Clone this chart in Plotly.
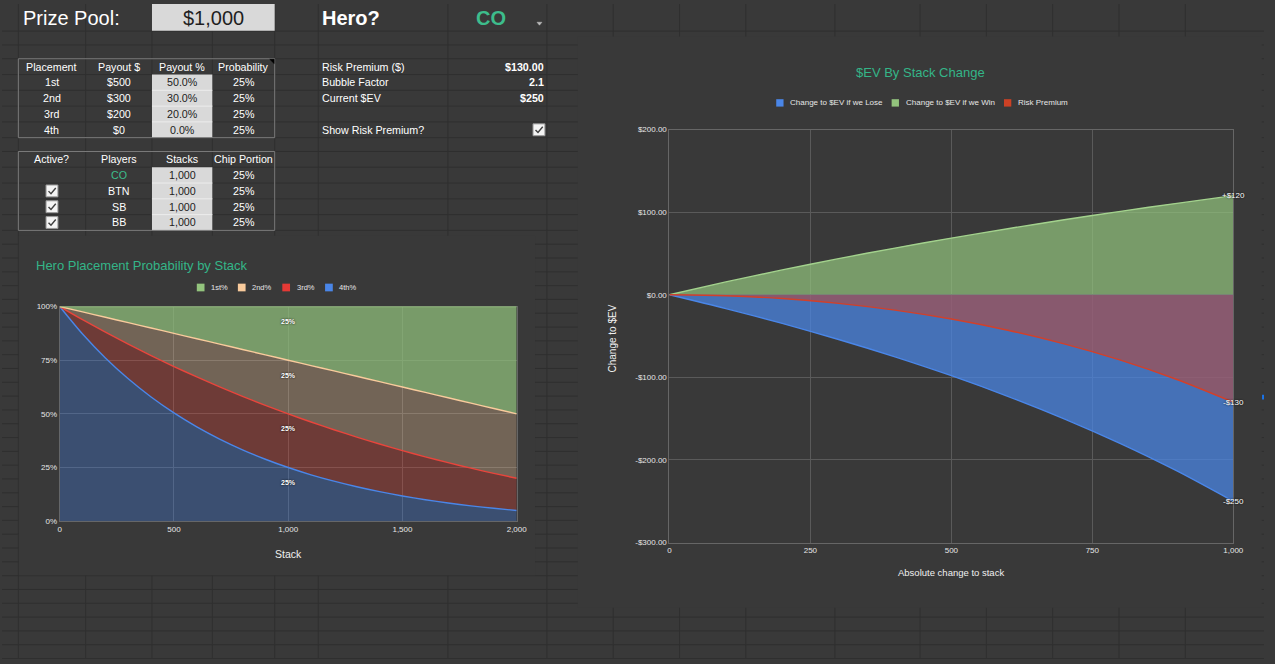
import plotly.graph_objects as go

W, H = 1275, 664
BG = "#393939"
GRID = "#2f2f2f"
TEAL = "#34b588"
FONT = "Arial, Liberation Sans, sans-serif"

# ---------------- sheet cell contents ----------------
prize_label = "Prize Pool:"
prize_pool = "$1,000"
hero_label = "Hero?"
hero = "CO"
placement_hdr = ["Placement", "Payout $", "Payout %", "Probability"]
placements = ["1st", "2nd", "3rd", "4th"]
payouts = ["$500", "$300", "$200", "$0"]
payout_pct = ["50.0%", "30.0%", "20.0%", "0.0%"]
probabilities = ["25%", "25%", "25%", "25%"]
player_hdr = ["Active?", "Players", "Stacks", "Chip Portion"]
players = ["CO", "BTN", "SB", "BB"]
player_active = [None, True, True, True]
stacks_txt = ["1,000", "1,000", "1,000", "1,000"]
chip_portion = ["25%", "25%", "25%", "25%"]
summary_labels = ["Risk Premium ($)", "Bubble Factor", "Current $EV"]
summary_values = ["$130.00", "2.1", "$250"]
show_rp_label = "Show Risk Premium?"

# ---------------- left chart data (percent) ----------------
stack = [0, 100, 200, 300, 400, 500, 600, 700, 800, 900, 1000,
         1100, 1200, 1300, 1400, 1500, 1600, 1700, 1800, 1900, 2000]
p4 = [100, 87.18, 76.04, 66.33, 57.86, 50.44, 43.94, 38.25, 33.25, 28.86, 25,
      21.61, 18.64, 16.03, 13.75, 11.75, 10, 8.48, 7.15, 6.00, 5]
p3 = [0, 6.71, 12.01, 16.14, 19.28, 21.62, 23.27, 24.34, 24.93, 25.13, 25,
      24.60, 23.97, 23.16, 22.21, 21.14, 20, 18.79, 17.54, 16.27, 15]
p2 = [0, 3.61, 6.95, 10.03, 12.86, 15.44, 17.79, 19.91, 21.82, 23.51, 25,
      26.29, 27.39, 28.31, 29.04, 29.61, 30, 30.23, 30.31, 30.23, 30]
p1 = [0, 2.5, 5, 7.5, 10, 12.5, 15, 17.5, 20, 22.5, 25,
      27.5, 30, 32.5, 35, 37.5, 40, 42.5, 45, 47.5, 50]
left_xticks = [0, 500, 1000, 1500, 2000]
left_xticktext = ["0", "500", "1,000", "1,500", "2,000"]
left_yticks = [0, 25, 50, 75, 100]
left_yticktext = ["0%", "25%", "50%", "75%", "100%"]

# ---------------- right chart data ($) ----------------
delta = [0, 100, 200, 300, 400, 500, 600, 700, 800, 900, 1000]
ev_win = [0, 15.57, 30.11, 43.74, 56.55, 68.60, 80.00, 90.78, 101.00, 110.72, 120.00]
ev_lose = [0, -16.71, -34.69, -54.08, -75.09, -97.94, -122.87, -150.13, -180.13, -213.25, -250.00]
risk_premium = [0, -1.14, -4.58, -10.34, -18.54, -29.34, -42.87, -59.35, -79.13, -102.53, -130.00]
right_xticks = [0, 250, 500, 750, 1000]
right_xticktext = ["0", "250", "500", "750", "1,000"]
right_yticks = [200, 100, 0, -100, -200, -300]
right_yticktext = ["$200.00", "$100.00", "$0.00", "-$100.00", "-$200.00", "-$300.00"]


def X(px):
    return px / W


def Y(py):
    return 1 - py / H


shapes = []
annotations = []


def line(x0, y0, x1, y1, color, width=1, layer="below"):
    shapes.append(dict(type="line", xref="paper", yref="paper", x0=X(x0), y0=Y(y0),
                       x1=X(x1), y1=Y(y1), line=dict(color=color, width=width), layer=layer))


def rect(x0, y0, x1, y1, fill, border=None, width=1, layer="below"):
    shapes.append(dict(type="rect", xref="paper", yref="paper", x0=X(x0), y0=Y(y0),
                       x1=X(x1), y1=Y(y1), fillcolor=fill,
                       line=dict(color=border or "rgba(0,0,0,0)", width=width if border else 0),
                       layer=layer))


def path(points, color, width=1.3, fill=None, close=False):
    d = "M " + " L ".join(f"{X(a):.5f},{Y(b):.5f}" for a, b in points)
    if close:
        d += " Z"
    shapes.append(dict(type="path", xref="paper", yref="paper", path=d,
                       line=dict(color=color, width=width), fillcolor=fill or "rgba(0,0,0,0)",
                       layer="below"))


def text(x, y, s, size=10.7, color="#ffffff", anchor="center", bold=False, family=FONT, **kw):
    annotations.append(dict(xref="paper", yref="paper", x=X(x), y=Y(y), text=(f"<b>{s}</b>" if bold else s),
                            showarrow=False, xanchor=anchor, yanchor="middle",
                            font=dict(size=size, color=color, family=family), borderpad=0, **kw))


# ---------------- spreadsheet grid ----------------
col_x = [16.5, 84.5, 151.5, 212.5, 275.5, 319.5, 450.5, 550.5, 617.5, 684.5, 751.5,
         841.5, 927.5, 994.5, 1061.5, 1128.5, 1195.5]
row_y = [27.5, 41.5, 55.5, 71.5, 87.5, 103.5, 119.5, 135.5, 149.5, 165.5, 181.5,
         197.5, 213.5, 229.5]
r = 243.5
while r < H:
    row_y.append(r)
    r += 14
for cx in col_x:
    line(cx, 0, cx, H, GRID)
for ry in row_y:
    line(0, ry, W, ry, GRID)

# chart backgrounds covering the grid
rect(17, 235, 538.5, 579, BG)
rect(581.7, 33, 1272.7, 612, BG)

# grey input cells
rect(151.5, 0, 275.5, 27, "#d9d9d9")
rect(151.5, 71.5, 212.5, 135.5, "#d9d9d9")
rect(151.5, 165.5, 212.5, 229.5, "#d9d9d9")
for ry in [87.5, 103.5, 119.5, 181.5, 197.5, 213.5]:
    line(151.5, ry, 212.5, ry, "#ececec")

# table borders
rect(16.5, 55.5, 275.5, 135.5, "rgba(0,0,0,0)", border="#7c7c7c")
rect(16.5, 149.5, 275.5, 229.5, "rgba(0,0,0,0)", border="#7c7c7c")
# comment marker
path([(270.5, 56), (275, 56), (275, 60.5)], "#000000", width=0.5, fill="#000000", close=True)
# dropdown arrow
path([(540.5, 18.5), (545.5, 18.5), (543, 21.5)], "#bdbdbd", width=0.5, fill="#bdbdbd", close=True)
# selection handle at right edge
rect(1273, 396, 1275, 401, "#1a73e8")


def checkbox(cx, cy):
    rect(cx - 6, cy - 6, cx + 6, cy + 6, "#f4f4f4", border="#9a9a9a", width=1)
    path([(cx - 3.5, cy + 0.2), (cx - 1.0, cy + 2.8), (cx + 3.8, cy - 3.0)], "#404040", width=1.4)


# ---------------- sheet texts ----------------
text(20, 14, prize_label, size=20, anchor="left")
text(213.5, 14, prize_pool, size=20, color="#1f1f1f")
text(322, 14, hero_label, size=20, anchor="left", bold=True)
text(494, 14, hero, size=20, color="#3dbd8c", bold=True)

centers = [50.5, 118, 182, 244]
for c, h in zip(centers, placement_hdr):
    text(c, 63.5, h)
for i in range(4):
    yy = 79.5 + 16 * i
    text(centers[0], yy, placements[i])
    text(centers[1], yy, payouts[i])
    text(centers[2], yy, payout_pct[i], color="#222222")
    text(centers[3], yy, probabilities[i])

for c, h in zip(centers, player_hdr):
    text(c, 157.5, h)
for i in range(4):
    yy = 173.5 + 16 * i
    if player_active[i]:
        checkbox(centers[0], yy)
    text(centers[1], yy, players[i], color=("#3dbd8c" if players[i] == hero else "#ffffff"))
    text(centers[2], yy, stacks_txt[i], color="#222222")
    text(centers[3], yy, chip_portion[i])

for i in range(3):
    yy = 63.5 + 16 * i
    text(322, yy, summary_labels[i], anchor="left")
    text(548.5, yy, summary_values[i], anchor="right", bold=True)
text(322, 127.5, show_rp_label, anchor="left")
checkbox(542.5, 127.5)

# ---------------- left chart ----------------
left_series = [
    ("4th%", p4, "#4a86e8", "rgba(66,133,244,0.30)"),
    ("3rd%", p3, "#e8453c", "rgba(234,67,53,0.30)"),
    ("2nd%", p2, "#f9cb9c", "rgba(249,203,156,0.30)"),
    ("1st%", p1, "#93c47d", "rgba(147,196,125,0.70)"),
]
fig = go.Figure()
for name, vals, lc, fc in left_series:
    fig.add_trace(go.Scatter(x=stack, y=vals, name=name, stackgroup="left", mode="lines",
                             line=dict(color=lc, width=1.4, shape="spline", smoothing=0.8),
                             fillcolor=fc, xaxis="x", yaxis="y", showlegend=False,
                             hoverinfo="skip"))

# data labels at 1,000
i1000 = stack.index(1000)
cum = 0
for name, vals, lc, fc in left_series:
    cum += vals[i1000]
    annotations.append(dict(xref="x", yref="y", x=1000, y=cum, yshift=-15,
                            text=f"<b>{vals[i1000]:.0f}%</b>", showarrow=False,
                            font=dict(size=7, color="#ffffff", family=FONT,
                                      shadow="0px 0px 2px #000"),
                            xanchor="center", yanchor="middle"))

text(33.5, 265, "Hero Placement Probability by Stack", size=13, color=TEAL, anchor="left")
leg_left = [("1st%", "#93c47d", 196.8), ("2nd%", "#f9cb9c", 238.3),
            ("3rd%", "#e53935", 283.2), ("4th%", "#4a86e8", 326.4)]
for lbl, col, lx in leg_left:
    rect(lx, 283.5, lx + 7.8, 291.3, col)
    text(lx + 13.5, 287.4, lbl, size=7.5, color="#e6e6e6", anchor="left")
text(289.5, 558, "Stack", size=10.5, color="#f0f0f0")

# ---------------- right chart ----------------
right_series = [
    ("Change to $EV if we Win", ev_win, "#a3d28d", "rgba(147,196,125,0.70)"),
    ("Change to $EV if we Lose", ev_lose, "#4a86e8", "rgba(74,134,232,0.72)"),
    ("Risk Premium", risk_premium, "#d2402a", "rgba(204,65,37,0.50)"),
]
for name, vals, lc, fc in right_series:
    fig.add_trace(go.Scatter(x=delta, y=vals, name=name, mode="lines", fill="tozeroy",
                             line=dict(color=lc, width=1.4, shape="spline", smoothing=0.8),
                             fillcolor=fc, xaxis="x2", yaxis="y2", showlegend=False,
                             hoverinfo="skip"))

end_labels = [(ev_win[-1], f"+${ev_win[-1]:.0f}"),
              (risk_premium[-1], f"-${-risk_premium[-1]:.0f}"),
              (ev_lose[-1], f"-${-ev_lose[-1]:.0f}")]
for yv, lbl in end_labels:
    annotations.append(dict(xref="x2", yref="y2", x=delta[-1], y=yv, text=lbl, showarrow=False,
                            font=dict(size=8, color="#ffffff", family=FONT,
                                      shadow="0px 0px 2px #000"),
                            xanchor="center", yanchor="middle"))

text(928.3, 69.3, "$EV By Stack Change", size=13, color=TEAL)
leg_right = [("Change to $EV if we Lose", "#4a86e8", 782.2),
             ("Change to $EV if we Win", "#93c47d", 898.8),
             ("Risk Premium", "#cc4125", 1012.3)]
for lbl, col, lx in leg_right:
    rect(lx, 96.5, lx + 7.4, 104, col)
    text(lx + 13.2, 100.3, lbl, size=8, color="#e6e6e6", anchor="left")
text(958.5, 576.7, "Absolute change to stack", size=9.5, color="#f0f0f0")
annotations.append(dict(xref="paper", yref="paper", x=X(616.4), y=Y(339), text="Change to $EV",
                        textangle=-90, showarrow=False, xanchor="center", yanchor="middle",
                        font=dict(size=10, color="#f0f0f0", family=FONT)))

axis_common = dict(showgrid=True, gridcolor="#5a5a5a", gridwidth=1, zeroline=False,
                   showline=True, mirror=True, linecolor="#666666", ticks="",
                   tickfont=dict(size=8, color="#e6e6e6", family=FONT), fixedrange=True)

fig.update_layout(
    width=W, height=H, margin=dict(l=0, r=0, t=0, b=0),
    paper_bgcolor=BG, plot_bgcolor="rgba(0,0,0,0)", showlegend=False,
    xaxis=dict(domain=[X(58.3), X(520)], range=[0, 2000], tickvals=left_xticks,
               ticktext=left_xticktext, anchor="y", layer="below traces", **axis_common),
    yaxis=dict(domain=[Y(524.3), Y(306.7)], range=[0, 100], tickvals=left_yticks,
               ticktext=left_yticktext, anchor="x", layer="below traces", **axis_common),
    xaxis2=dict(domain=[X(674.3), X(1244)], range=[0, 1000], tickvals=right_xticks,
                ticktext=right_xticktext, anchor="y2", **axis_common),
    yaxis2=dict(domain=[Y(546), Y(127.3)], range=[-300, 200], tickvals=right_yticks,
                ticktext=right_yticktext, anchor="x2", **axis_common),
    shapes=shapes, annotations=annotations,
    font=dict(family=FONT),
)

page_fix = ("document.body.style.margin='0';document.body.style.overflow='hidden';"
            "document.documentElement.style.background='" + BG + "';")
fig.write_html("out.html", config={"displayModeBar": False}, post_script=page_fix)
